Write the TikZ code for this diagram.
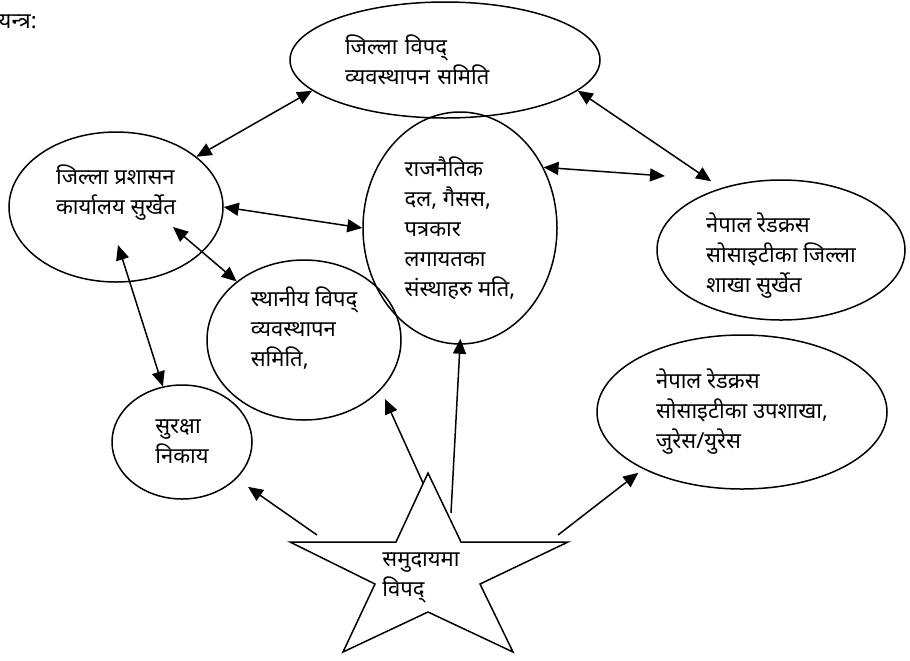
\documentclass[tikz,border=0pt]{standalone}
\usepackage{fontspec}
\newfontfamily\devfont[Script=Devanagari]{Noto Sans}
\usetikzlibrary{shapes,arrows.meta}
\tikzstyle{bubble} = [ellipse, draw, align=left, inner sep=1pt]

\begin{document}
\begin{tikzpicture}[x=0.5pt,y=-0.5pt,line width=0.75pt,
                    >={Triangle[length=7.5pt,width=6.5pt]},
                    font=\devfont\fontsize{11}{15}\selectfont]
  \useasboundingbox (0,0) rectangle (910,660);

  \node[anchor=west,inner sep=0pt] (0) at (-2,22) {यन्त्र:};

  \node[bubble,minimum width=155pt,minimum height=58pt,text width=100pt] (1) at (445,60) {जिल्ला विपद्\\व्यवस्थापन समिति};
  \node[bubble,minimum width=107pt,minimum height=75pt,text height=10pt] (2) at (116,207) {जिल्ला प्रशासन\\कार्यालय सुर्खेत};
  \node[bubble,minimum width=97pt,minimum height=116pt] (3) at (460,228) {राजनैतिक\\दल, गैसस,\\पत्रकार\\लगायतका\\संस्थाहरु मति,};
  \node[bubble,minimum width=124pt,minimum height=70pt,text height=42pt,text depth=0pt] (4) at (781,250) {नेपाल रेडक्रस\\सोसाइटीका जिल्ला\\शाखा सुर्खेत};
  \node[bubble,minimum width=97pt,minimum height=80pt,text height=28pt] (5) at (304,340) {स्थानीय विपद्\\व्यवस्थापन\\समिति,};
  \node[bubble,minimum width=70pt,minimum height=57pt] (6) at (182,442) {सुरक्षा\\निकाय};
  \node[bubble,minimum width=145pt,minimum height=77pt] (7) at (742,412) {नेपाल रेडक्रस\\सोसाइटीका उपशाखा,\\जुरेस/युरेस};

  \draw (428,473) -- (461,542) -- (568,542) -- (480,584) -- (513,652) -- (428,612)
     -- (343,652) -- (375,584) -- (290,542) -- (396,542) -- cycle;
  \node[align=left] (8) at (421,578) {समुदायमा\\विपद्};

  \coordinate (a2) at (173,227);
  \coordinate (a4) at (665,176);
  \coordinate (a6) at (118,245);
  \coordinate (s3) at (451,513);
  \coordinate (s5) at (423,483);
  \coordinate (s6) at (317,535);
  \coordinate (s7) at (558,535);

  \path (1.193) edge[<->] (2.32)
  (1.347) edge[<->,shorten >=6pt] (4.134)
  (2.east) edge[<->] (3.west)
  (3.36) edge[<->] (a4)
  (a2) edge[<->] (5.139)
  (a6) edge[<->] (6.109)
  (s6) edge[->,shorten >=7pt] (6.326)
  (s5) edge[->,shorten >=5pt] (5.327)
  (s3) edge[->,shorten >=-3pt] (3.south)
  (s7) edge[->,shorten >=3pt] (7.210);
\end{tikzpicture}
\end{document}
